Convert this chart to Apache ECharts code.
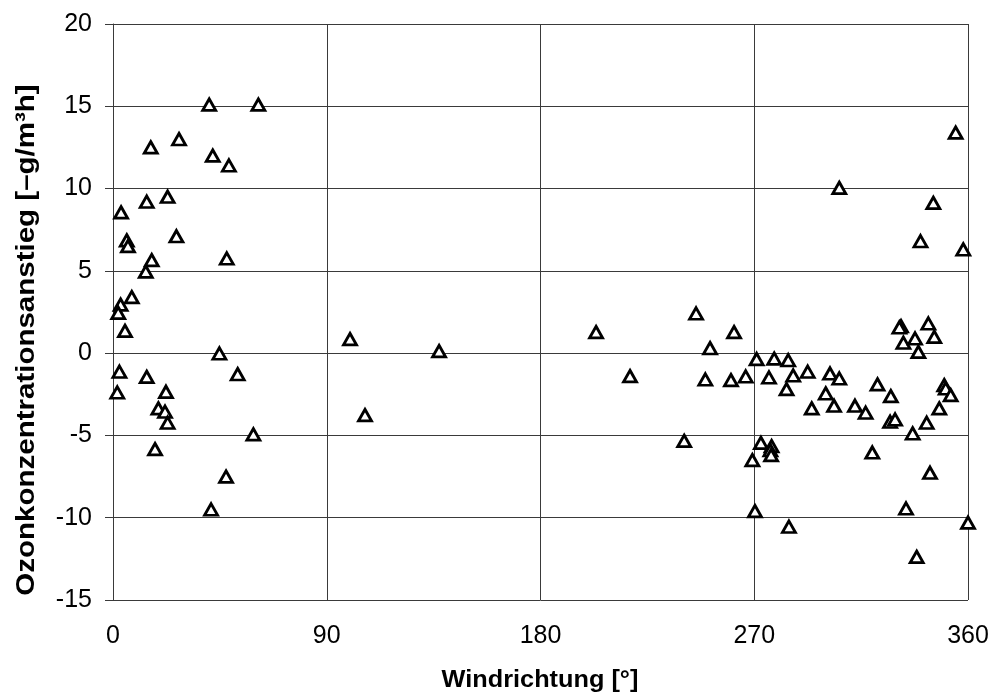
<!DOCTYPE html>
<html><head><meta charset="utf-8">
<script src="https://cdn.jsdelivr.net/npm/echarts@6/dist/echarts.min.js"></script>
<style>html,body{margin:0;padding:0;background:#fff}#c{width:992px;height:698px}</style>
</head><body><div id="c"></div>
<script>
const xTicks = [0, 90, 180, 270, 360];
const yTicks = [-15, -10, -5, 0, 5, 10, 15, 20];
const windDir = [
  40.5, 61.2, 15.9, 27.8, 42.0, 48.8, 14.2, 23.0, 3.4, 26.7, 5.8, 6.3, 16.3, 47.9, 13.8, 7.9,
  3.2, 2.2, 5.05, 2.7, 1.8, 14.2, 22.3, 19.1, 21.9, 23.0, 44.8, 52.5, 59.1, 17.7, 47.6, 41.3,
  99.8, 137.3, 106.1, 203.4, 217.7,
  240.5, 245.5, 249.4, 251.4, 260.2, 261.5, 266.4, 269.2, 270.3, 271.0, 272.8, 276.2, 277.3, 276.8, 277.1,
  278.4, 283.6, 284.3, 284.6, 286.4, 292.5, 294.2, 300.1, 301.9, 303.6, 305.8, 305.8, 312.4, 316.9,
  319.7, 321.9, 327.5, 327.2, 329.3, 331.8, 331.1, 332.8, 333.9, 336.7, 337.7, 338.4, 339.1, 340.0,
  342.6, 343.3, 344.0, 345.4, 345.8, 347.9, 350.0, 350.6, 352.7, 354.8, 358.0, 360.0
];
const ozoneRise = [
  15.1, 15.1, 12.5, 13.0, 12.0, 11.4, 9.2, 9.5, 8.55, 7.1, 6.85, 6.5, 5.65, 5.75, 4.95, 3.4,
  2.95, 2.45, 1.35, -1.13, -2.39, -1.44, -2.35, -3.36, -3.56, -4.23, -0.02, -1.28, -4.94, -5.83, -7.5, -9.5,
  0.85, 0.12, -3.77, 1.28, -1.4,
  -5.33, 2.41, -1.6, 0.3, -1.64, 1.28, -1.42, -6.5, -9.6, -0.36, -5.45, -1.48, -5.65, -5.9, -6.2,
  -0.33, -2.19, -0.43, -10.55, -1.36, -1.13, -3.36, -2.45, -1.24, -3.2, -1.54, 10.04, -3.2, -3.62,
  -6.04, -1.9, -2.61, -4.17, -4.03, 1.64, 1.56, 0.63, -9.44, -4.88, 0.89, -12.38, 0.08, 6.8,
  -4.23, 1.8, -7.27, 9.13, 0.99, -3.36, -1.94, -2.15, -2.55, 13.4, 6.3, -10.3
];
const xTitle = 'Windrichtung [°]';
const yTitle = 'Ozonkonzentrationsanstieg [–g/m³h]';

const chart = echarts.init(document.getElementById('c'), null, {renderer: 'canvas'});
const lineCol = '#3a3a3a';
chart.setOption({
  animation: false,
  backgroundColor: '#fff',
  grid: {left: 113, right: 24, top: 24, bottom: 98, show: false},
  xAxis: [{
    type: 'value', min: 0, max: 360, interval: 90,
    axisLine: {show: false, onZero: false},
    axisTick: {show: false},
    axisLabel: {margin: 24, fontFamily: 'Liberation Sans, Arial', fontSize: 25, color: '#000'},
    splitLine: {show: true, lineStyle: {color: lineCol, width: 1}}
  }, {
    type: 'value', min: 0, max: 360, interval: 90, position: 'bottom',
    axisLine: {show: true, onZero: true, lineStyle: {color: lineCol, width: 1}},
    axisTick: {show: true, length: 5, lineStyle: {color: lineCol}},
    axisLabel: {show: false},
    splitLine: {show: false}
  }],
  yAxis: {
    type: 'value', min: -15, max: 20, interval: 5,
    axisLine: {show: true, onZero: false, lineStyle: {color: lineCol, width: 1}},
    axisTick: {show: true, length: 8, lineStyle: {color: lineCol}},
    axisLabel: {margin: 21, fontFamily: 'Liberation Sans, Arial', fontSize: 25, color: '#000'},
    splitLine: {show: true, lineStyle: {color: lineCol, width: 1}}
  },
  graphic: [
    {type: 'text', x: 540, y: 681, scaleX: 1.1, style: {text: xTitle, font: 'bold 23px "Liberation Sans", Arial', fill: '#000', textAlign: 'center', textVerticalAlign: 'middle'}},
    {type: 'text', x: 27, y: 340, rotation: Math.PI / 2, scaleX: 1.18, style: {text: yTitle, font: 'bold 25px "Liberation Sans", Arial', fill: '#000', textAlign: 'center', textVerticalAlign: 'middle'}}
  ],
  series: [{
    type: 'scatter',
    xAxisIndex: 0,
    clip: false,
    symbol: 'triangle',
    symbolSize: [13, 11.5],
    itemStyle: {color: '#fff', borderColor: '#000', borderWidth: 2.8, opacity: 1},
    data: windDir.map((d, i) => [d, ozoneRise[i]])
  }]
});
</script></body></html>
